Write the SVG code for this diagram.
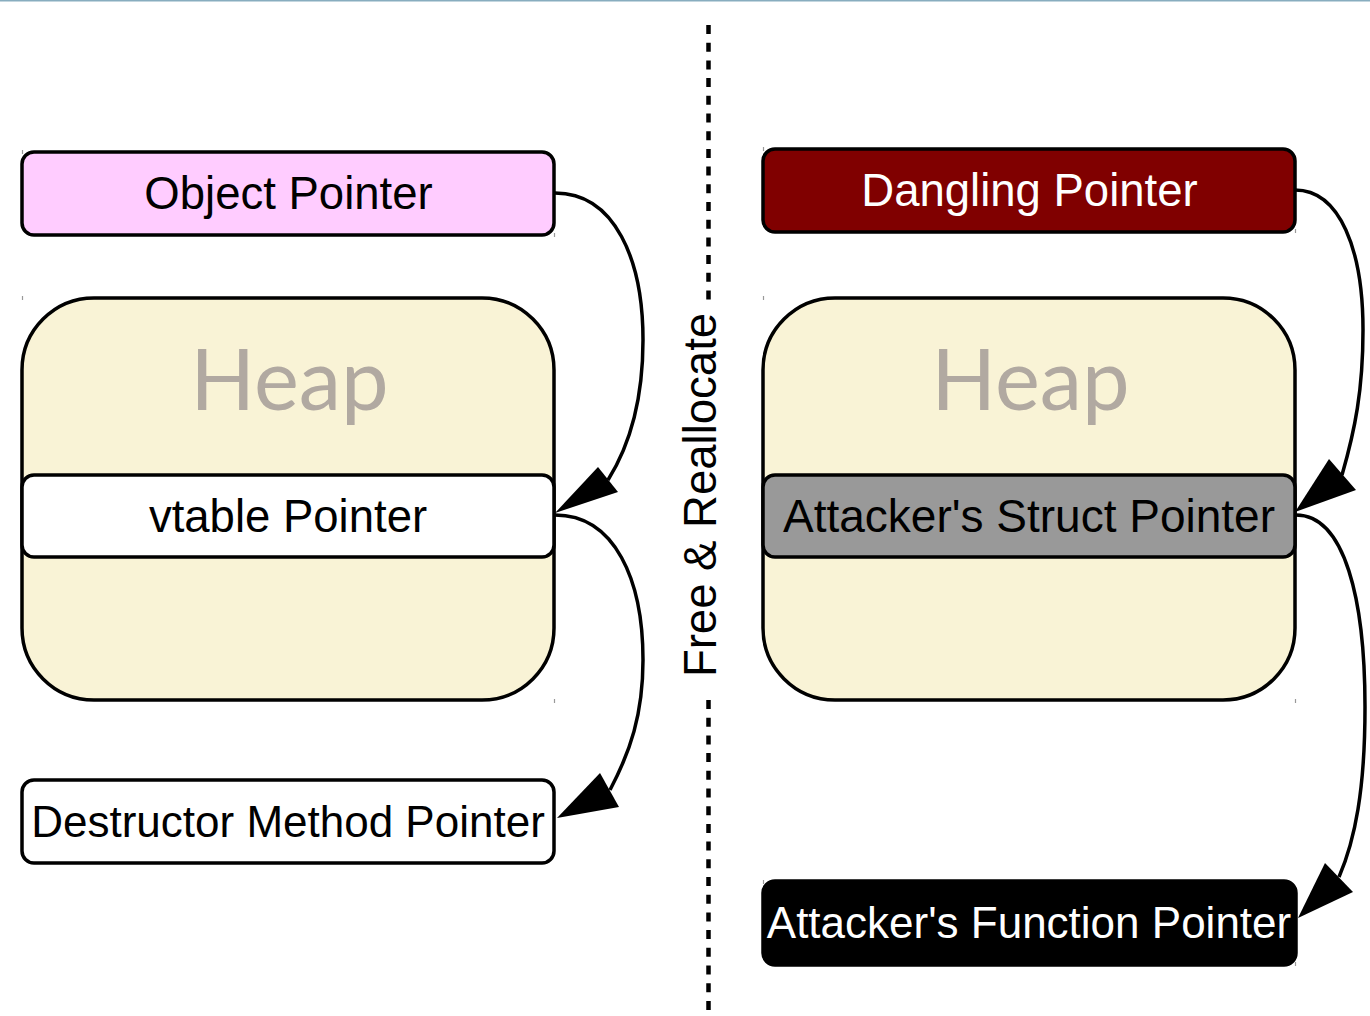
<svg xmlns="http://www.w3.org/2000/svg" width="1370" height="1016" viewBox="0 0 1370 1016">
<style>
.box{stroke:#000;stroke-width:3.5}
.lbl{font-family:"Liberation Sans",Arial,sans-serif;font-size:45.5px;text-anchor:middle}
.heap{font-family:Lato,"Open Sans",sans-serif;font-size:85px;fill:#b1a9a1;text-anchor:middle}
.edge{fill:none;stroke:#000;stroke-width:3.5}
.tick{stroke:#999;stroke-width:1.2}
.dot{stroke:#000;stroke-width:4.5;stroke-dasharray:9 8.7}
</style>
<rect x="0" y="0" width="1370" height="1016" fill="#fff"/>
<line x1="0" y1="0.75" x2="1370" y2="0.75" stroke="#88adbf" stroke-width="1.5"/>

<g id="divider">
<line class="dot" x1="708.5" y1="25" x2="708.5" y2="300"/>
<line class="dot" x1="708.5" y1="700" x2="708.5" y2="1011"/>
<text transform="translate(716,495) rotate(-90)" class="lbl" style="font-size:45.5px">Free &amp; Reallocate</text>
</g>

<g id="object-pointer">
<rect class="box" x="22" y="152" width="532" height="83" rx="12" fill="#ffccff"/>
<text class="lbl" x="288.5" y="209">Object Pointer</text>
</g>

<g id="heap-left">
<rect class="box" x="22" y="298" width="532" height="402" rx="72" fill="#f9f3d6"/>
<text class="heap" x="289.5" y="410">Heap</text>
</g>

<g id="vtable-pointer">
<rect class="box" x="22" y="475" width="532" height="82" rx="12" fill="#fff"/>
<text class="lbl" x="288" y="532">vtable Pointer</text>
</g>

<g id="destructor-pointer">
<rect class="box" x="22" y="780" width="532" height="83" rx="12" fill="#fff"/>
<text class="lbl" x="288" y="837" style="font-size:44px">Destructor Method Pointer</text>
</g>

<g id="dangling-pointer">
<rect class="box" x="763" y="149" width="532" height="83" rx="12" fill="#800000"/>
<text class="lbl" x="1029.5" y="206" fill="#fff">Dangling Pointer</text>
</g>

<g id="heap-right">
<rect class="box" x="763" y="298" width="532" height="402" rx="72" fill="#f9f3d6"/>
<text class="heap" x="1030.5" y="410">Heap</text>
</g>

<g id="struct-pointer">
<rect class="box" x="763" y="475" width="532" height="82" rx="12" fill="#999999"/>
<text class="lbl" x="1029" y="532" style="font-size:46px">Attacker's Struct Pointer</text>
</g>

<g id="function-pointer">
<rect class="box" x="763" y="881" width="533" height="84" rx="12" fill="#000"/>
<text class="lbl" x="1029" y="938" fill="#fff" style="font-size:44px">Attacker's Function Pointer</text>
</g>

<g id="ticks">
<line class="tick" x1="22.5" y1="150" x2="22.5" y2="154"/>
<line class="tick" x1="554.5" y1="233" x2="554.5" y2="237"/>
<line class="tick" x1="22.5" y1="296" x2="22.5" y2="300"/>
<line class="tick" x1="554.5" y1="699" x2="554.5" y2="703"/>
<line class="tick" x1="763.5" y1="147" x2="763.5" y2="151"/>
<line class="tick" x1="1295.5" y1="229" x2="1295.5" y2="233"/>
<line class="tick" x1="763.5" y1="296" x2="763.5" y2="300"/>
<line class="tick" x1="1295.5" y1="699" x2="1295.5" y2="703"/>
<line class="tick" x1="763.5" y1="880" x2="763.5" y2="884"/>
<line class="tick" x1="1295.5" y1="962" x2="1295.5" y2="966"/>
</g>

<g id="connectors">
<path class="edge" d="M555,193 C615,193 643,260 643,340 C643,400 630,445 608,480"/>
<polygon points="555,513 598,467 618,492" fill="#000"/>
<path class="edge" d="M555,515 C615,515 643,580 643,660 C643,715 630,752 610,790"/>
<polygon points="557,818 600,773 619,807" fill="#000"/>
<path class="edge" d="M1295,190 C1340,190 1363,250 1363,330 C1363,390 1355,430 1342,475"/>
<polygon points="1295,512 1329,459 1356,490" fill="#000"/>
<path class="edge" d="M1296,515 C1345,515 1365,600 1365,707 C1365,790 1355,840 1339,877"/>
<polygon points="1298,918 1325,863 1353,892" fill="#000"/>
</g>
</svg>
